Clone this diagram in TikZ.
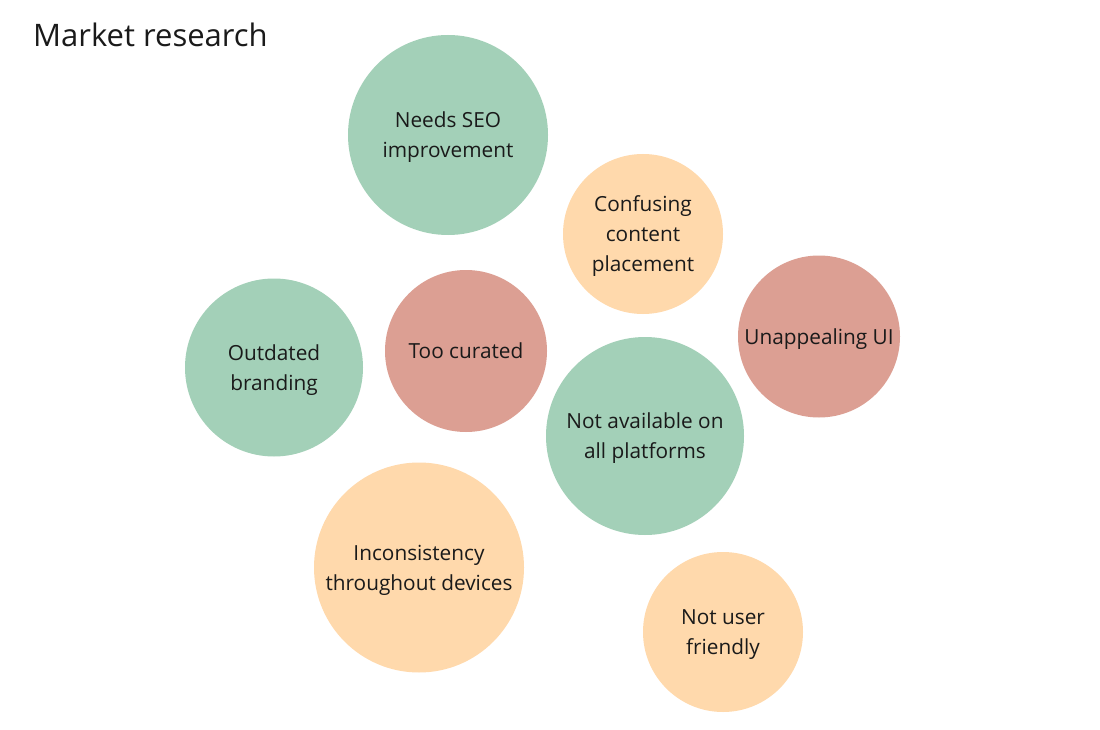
\documentclass[tikz,border=0pt]{standalone}
\usepackage{fontspec}
\setmainfont{Open Sans}
\definecolor{sage}{HTML}{A3D0B8}
\definecolor{peach}{HTML}{FFD9AC}
\definecolor{rose}{HTML}{DC9F93}
\definecolor{ink}{HTML}{1A1A1A}
\begin{document}
\begin{tikzpicture}[x=1pt,y=-1pt,
  bubble/.style={circle,inner sep=0pt,align=center,text=ink,
    text height=15pt,text depth=0pt,
    font=\fontsize{20.8}{30}\selectfont},
  twolines/.style={text height=45pt},
  threelines/.style={text height=75pt},
  greenb/.style={bubble,fill=sage},
  peachb/.style={bubble,fill=peach},
  roseb/.style={bubble,fill=rose}]
\useasboundingbox[fill=white] (0,0) rectangle (1100,730);
\node[anchor=base west,inner sep=0pt,text=ink,font=\fontsize{31}{36}\selectfont] (title) at (33,47) {Market research};

\node[greenb,twolines,minimum size=200pt] (seo) at (448,135) {Needs SEO\\improvement};
\node[peachb,threelines,minimum size=160pt] (conf) at (643,234) {Confusing\\content\\placement};
\node[roseb,minimum size=162pt] (ui) at (819,336.5) {Unappealing UI};
\node[greenb,twolines,minimum size=178pt] (brand) at (274,367.5) {Outdated\\branding};
\node[roseb,minimum size=162pt] (cur) at (466,351) {Too curated};
\node[greenb,twolines,minimum size=198pt] (plat) at (645,436) {Not available on\\all platforms};
\node[peachb,twolines,minimum size=210pt] (dev) at (419,567.5) {Inconsistency\\throughout devices};
\node[peachb,twolines,minimum size=160pt] (user) at (723,632) {Not user\\friendly};
\end{tikzpicture}
\end{document}
